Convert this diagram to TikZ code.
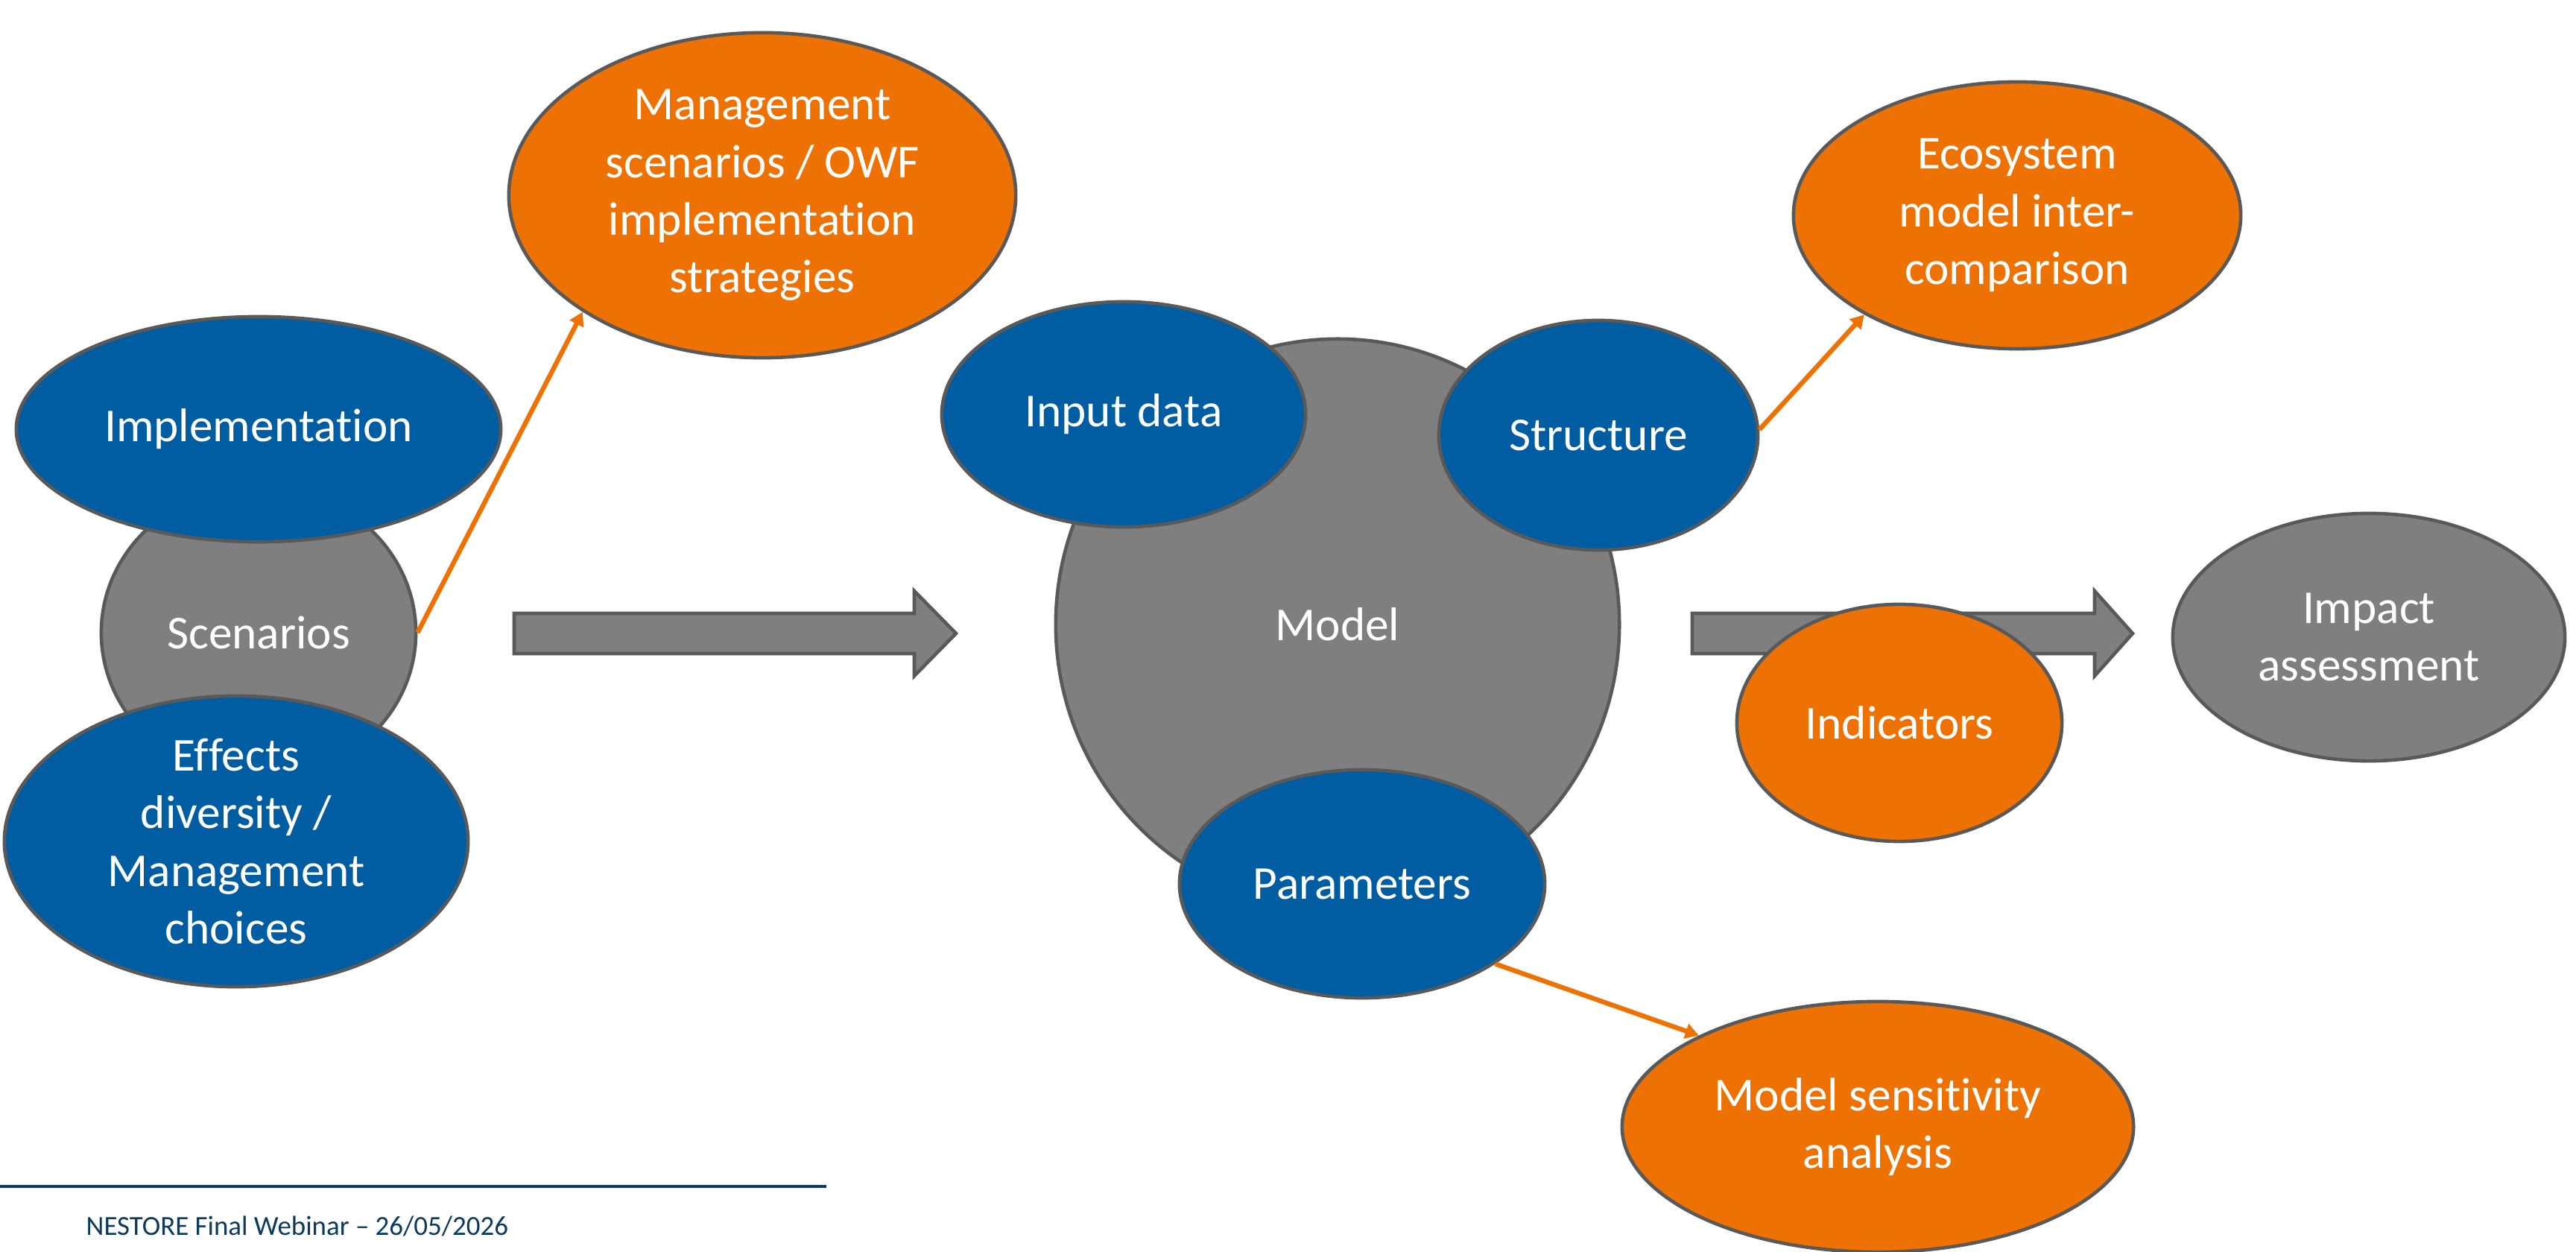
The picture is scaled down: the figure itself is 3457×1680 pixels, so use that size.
\documentclass[tikz,border=0pt]{standalone}
\usepackage{fontspec}
\setmainfont[RawFeature={-liga,-clig,-calt,-dlig}]{Carlito}
\usetikzlibrary{shapes.geometric,arrows.meta}
\definecolor{blu}{HTML}{005DA2}
\definecolor{org}{HTML}{ED7103}
\definecolor{gry}{HTML}{7F7F7F}
\definecolor{edgegray}{HTML}{595959}
\definecolor{navy}{HTML}{0B3A5B}
\begin{document}
\begin{tikzpicture}[x=0.01cm,y=-0.01cm,
  bub/.style={ellipse, draw=edgegray, line width=1.3pt, inner sep=0pt, text=white, align=center, font=\fontsize{18}{22}\selectfont},
  bluebub/.style={bub, fill=blu},
  orgbub/.style={bub, fill=org},
  graybub/.style={bub, fill=gry},
  link/.style={draw=org, line width=1.8pt, -{Triangle[length=0.18cm,width=0.2cm]}},
  fat/.style={fill=gry, draw=edgegray, line width=1.3pt, line join=miter}]
\useasboundingbox (0,0) rectangle (3457,1680);
% left group
\node[graybub, minimum width=4.22cm, minimum height=3.94cm] (scen) at (347,849) {Scenarios};
\node[bluebub, minimum width=6.50cm, minimum height=3.02cm] (impl) at (347,576) {\raisebox{-0.08cm}{Implemen\kern0pt tation}};
\node[bluebub, minimum width=6.22cm, minimum height=3.52cm] (eff) at (317,1129) {Ef\kern0pt fects\\diversity /\\Management\\choices};
\node[orgbub, minimum width=6.80cm, minimum height=4.36cm] (mgmt) at (1023,262) {Management\\scenarios / OWF\\implemen\kern0pt tation\\strategies};
\draw[link] (scen.east) -- (mgmt.213);
% first fat arrow
\draw[fat] (690,823) -- (1227,823) -- (1227,793) -- (1283,850) -- (1227,907) -- (1227,877) -- (690,877) -- cycle;
% model group
\node[graybub, minimum width=7.56cm, minimum height=7.66cm] (model) at (1795,838) {Model};
\node[bluebub, minimum width=4.88cm, minimum height=3.02cm] (input) at (1508,556) {Input data};
\node[bluebub, minimum width=4.28cm, minimum height=3.08cm] (struct) at (2145,584) {Structure};
\node[bluebub, minimum width=4.90cm, minimum height=3.06cm] (params) at (1828,1186) {Parameters};
\node[orgbub, minimum width=6.00cm, minimum height=3.58cm] (eco) at (2707,289) {Ecosystem\\model inter-\\comparison};
\node[orgbub, minimum width=6.86cm, minimum height=3.36cm] (sens) at (2520,1512) {Model sensi\kern0pt tivity\\analysis};
\draw[link] (struct.2) -- (eco.213);
\draw[link] (params.329) -- (sens.153);
% second fat arrow
\draw[fat] (2271,823) -- (2811,823) -- (2811,793) -- (2862,850) -- (2811,907) -- (2811,877) -- (2271,877) -- cycle;
\node[orgbub, minimum width=4.36cm, minimum height=3.18cm] (ind) at (2549,970) {Indicators};
\node[graybub, minimum width=5.26cm, minimum height=3.32cm] (impact) at (3179,855) {Impact\\assessment};
% footer
\coordinate (fl) at (0,1592);
\coordinate (fr) at (1109,1592);
\draw[navy, line width=1.3pt] (fl) -- (fr);
\node[anchor=west, inner sep=0pt, text=navy, font=\fontsize{10.5}{12}\selectfont] (foot) at (115,1645) {NESTORE Final Webinar – 26/05/2026};
\end{tikzpicture}
\end{document}
